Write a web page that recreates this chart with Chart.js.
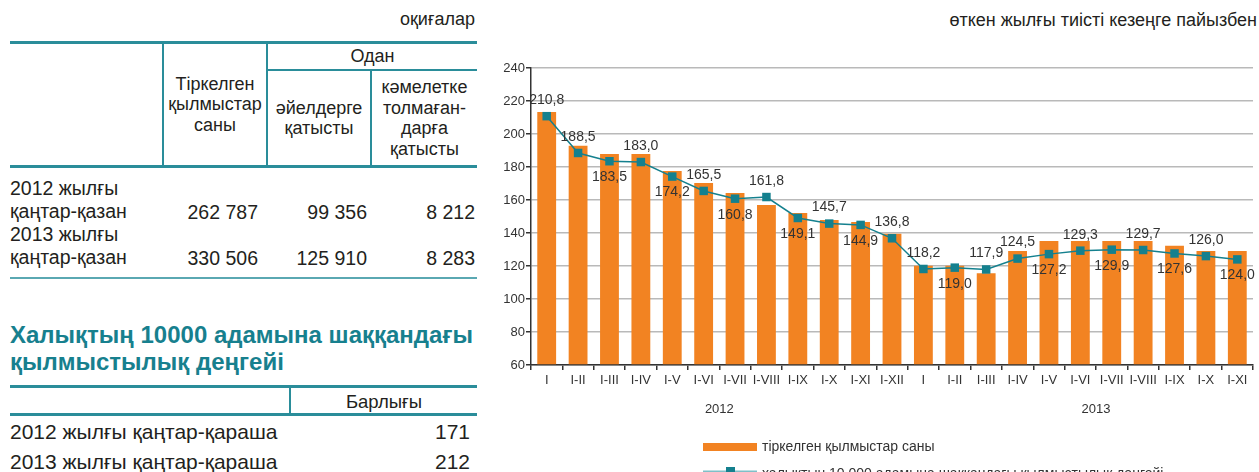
<!DOCTYPE html>
<html>
<head>
<meta charset="utf-8">
<script src="https://cdn.jsdelivr.net/npm/chart.js@4.4.1/dist/chart.umd.min.js"></script>
<style>
html, body { margin: 0; padding: 0; background: #fff; overflow: hidden; }
body { width: 1259px; height: 472px; position: relative; font-family: 'Liberation Sans', Arial, sans-serif; color: #231f20; }
.t { position: absolute; white-space: nowrap; }
.ln { position: absolute; background: #2a8d9a; }
.cell { position: absolute; display: flex; align-items: center; justify-content: center; text-align: center; font-size: 18px; line-height: 20.5px; }
#chartBox { position: absolute; left: 490px; top: 0; width: 769px; height: 500px; }
</style>
</head>
<body>

<!-- таблица 1 -->
<div class="t" style="left:0;width:475px;text-align:right;top:9px;font-size:18px;line-height:20px;">оқиғалар</div>
<div class="ln" style="left:10px;top:41px;width:467px;height:3px;"></div>
<div class="ln" style="left:162px;top:43px;width:2px;height:124px;"></div>
<div class="ln" style="left:266px;top:43px;width:2px;height:124px;"></div>
<div class="ln" style="left:266px;top:69px;width:211px;height:2px;"></div>
<div class="ln" style="left:370px;top:70px;width:2px;height:97px;"></div>
<div class="ln" style="left:10px;top:165px;width:467px;height:3px;"></div>
<div class="cell" style="left:164px;top:44px;width:102px;height:121px;">Тіркелген<br>қылмыстар<br>саны</div>
<div class="cell" style="left:268px;top:44px;width:209px;height:25px;">Одан</div>
<div class="cell" style="left:268px;top:71px;width:102px;height:94px;">әйелдерге<br>қатысты</div>
<div class="cell" style="left:372px;top:71px;width:105px;height:94px;">кәмелетке<br>толмаған-<br>дарға<br>қатысты</div>

<div class="t" style="left:10px;top:177px;font-size:19.5px;line-height:23px;">2012 жылғы<br>қаңтар-қазан<br>2013 жылғы<br>қаңтар-қазан</div>
<div class="t" style="left:150px;width:108px;text-align:right;top:189px;font-size:19.5px;line-height:46px;">262 787<br>330 506</div>
<div class="t" style="left:262px;width:105px;text-align:right;top:189px;font-size:19.5px;line-height:46px;">99 356<br>125 910</div>
<div class="t" style="left:372px;width:103px;text-align:right;top:189px;font-size:19.5px;line-height:46px;">8 212<br>8 283</div>
<div class="ln" style="left:10px;top:277px;width:467px;height:2px;background:#5aa8b2;"></div>

<!-- заголовок -->
<div class="t" style="left:10px;top:321px;font-size:24px;line-height:27px;font-weight:bold;color:#17808e;">Халықтың 10000 адамына шаққандағы<br>қылмыстылық деңгейі</div>

<!-- таблица 2 -->
<div class="ln" style="left:10px;top:385px;width:467px;height:3px;"></div>
<div class="ln" style="left:289px;top:387px;width:2px;height:28px;"></div>
<div class="ln" style="left:10px;top:413px;width:467px;height:3px;"></div>
<div class="t" style="left:291px;width:186px;text-align:center;top:391px;font-size:18.5px;line-height:22px;">Барлығы</div>
<div class="t" style="left:10px;top:417px;font-size:21px;line-height:30px;">2012 жылғы қаңтар-қараша<br>2013 жылғы қаңтар-қараша</div>
<div class="t" style="left:380px;width:90px;text-align:right;top:417px;font-size:21px;line-height:30px;">171<br>212</div>

<!-- график -->
<div class="t" style="left:650px;width:607px;text-align:right;top:10px;font-size:18px;line-height:20px;">өткен жылғы тиісті кезеңге пайызбен</div>
<div id="chartBox"><canvas id="crimeChart"></canvas></div>

<script>
// подписи месяцев (нарастающим итогом), 2012 + 2013
const monthLabels = ['I', 'I-II', 'I-III', 'I-IV', 'I-V', 'I-VI', 'I-VII', 'I-VIII', 'I-IX', 'I-X', 'I-XI', 'I-XII',
                     'I', 'I-II', 'I-III', 'I-IV', 'I-V', 'I-VI', 'I-VII', 'I-VIII', 'I-IX', 'I-X', 'I-XI'];
// тіркелген қылмыстар саны (столбцы)
const registeredCrimes = [213.3, 192.9, 187.9, 187.9, 177.6, 170.3, 164.2, 157.0, 152.1, 147.9, 146.7, 139.5,
                          120.2, 120.2, 115.6, 129.1, 135.2, 135.2, 135.2, 135.2, 132.3, 129.1, 129.1];
// қылмыстылық деңгейі (линия, по подписям)
const crimeRate = [210.8, 188.5, 183.5, 183.0, 174.2, 165.5, 160.8, 161.8, 149.1, 145.7, 144.9, 136.8,
                   118.2, 119.0, 117.9, 124.5, 127.2, 129.3, 129.9, 129.7, 127.6, 126.0, 124.0];
// где стоит подпись точки: сверху или снизу
const labelSide = ['up', 'up', 'down', 'up', 'down', 'up', 'down', 'up', 'down', 'up', 'down', 'up',
                   'up', 'down', 'up', 'up', 'down', 'up', 'down', 'up', 'down', 'up', 'down'];
const years = ['2012', '2013'];
const yearFirstIndex = [0, 12];
const legendNames = ['тіркелген қылмыстар саны', 'халықтың 10 000 адамына шаққандағы қылмыстылық деңгейі'];

const ORANGE = '#f28322';
const TEAL = '#14808e';
const TEXT = '#333333';

const fmt = v => v.toFixed(1).replace('.', ',');

// подписи значений, годы и легенда
const extrasPlugin = {
    id: 'extras',
    afterDatasetsDraw(chart) {
        const ctx = chart.ctx;
        const meta = chart.getDatasetMeta(0);
        ctx.save();
        ctx.font = '14px "Liberation Sans", Arial, sans-serif';
        ctx.fillStyle = TEXT;
        ctx.textAlign = 'center';
        ctx.textBaseline = 'middle';
        meta.data.forEach((pt, i) => {
            const dy = labelSide[i] === 'up' ? -16 : 16;
            ctx.fillText(fmt(crimeRate[i]), pt.x, pt.y + dy);
        });
        ctx.restore();
    },
    afterDraw(chart) {
        const ctx = chart.ctx;
        const xs = chart.scales.x;
        const area = chart.chartArea;
        ctx.save();
        ctx.fillStyle = TEXT;
        ctx.textBaseline = 'middle';
        ctx.textAlign = 'center';
        ctx.font = '13px "Liberation Sans", Arial, sans-serif';
        years.forEach((y, i) => {
            const a = xs.getPixelForValue(yearFirstIndex[i]);
            const b = xs.getPixelForValue(yearFirstIndex[i] + 11);
            ctx.fillText(y, (a + b) / 2, area.bottom + 44);
        });

        // легенда
        const lx = area.left + 172;
        ctx.textAlign = 'left';
        ctx.font = '14px "Liberation Sans", Arial, sans-serif';
        ctx.fillStyle = ORANGE;
        ctx.fillRect(lx, 443, 54, 8);
        ctx.fillStyle = TEXT;
        ctx.fillText(legendNames[0], lx + 59, 447);

        ctx.strokeStyle = '#7fc0c8';
        ctx.lineWidth = 3;
        ctx.beginPath();
        ctx.moveTo(lx, 472);
        ctx.lineTo(lx + 54, 472);
        ctx.stroke();
        ctx.fillStyle = TEAL;
        ctx.fillRect(lx + 23, 467, 9, 9);
        ctx.fillStyle = TEXT;
        ctx.fillText(legendNames[1], lx + 59, 474);
        ctx.restore();
    }
};

const ctx = document.getElementById('crimeChart').getContext('2d');
const crimeChart = new Chart(ctx, {
    data: {
        labels: monthLabels,
        datasets: [
            {
                type: 'line',
                label: legendNames[1],
                data: crimeRate,
                borderColor: TEAL,
                borderWidth: 1.5,
                pointStyle: 'rect',
                pointRadius: 6,
                pointBackgroundColor: TEAL,
                pointBorderColor: TEAL,
                pointBorderWidth: 0,
                tension: 0,
                order: 0
            },
            {
                type: 'bar',
                label: legendNames[0],
                data: registeredCrimes,
                backgroundColor: ORANGE,
                base: 60,
                categoryPercentage: 1,
                barPercentage: 0.6,
                order: 1
            }
        ]
    },
    options: {
        responsive: true,
        maintainAspectRatio: false,
        animation: false,
        layout: { padding: { top: 68, right: 1, bottom: 105, left: 0 } },
        plugins: {
            legend: { display: false },
            tooltip: { enabled: false }
        },
        scales: {
            x: {
                offset: true,
                grid: { display: true, drawOnChartArea: false, offset: true, tickLength: 5, tickColor: '#333', lineWidth: 1.5 },
                border: { color: '#333', width: 1.5 },
                ticks: {
                    color: TEXT,
                    font: { size: 13, family: '"Liberation Sans", Arial, sans-serif' },
                    autoSkip: false,
                    maxRotation: 0,
                    padding: 3
                },
                afterFit: s => { s.height = 30; }
            },
            y: {
                min: 60,
                max: 240,
                ticks: {
                    stepSize: 20,
                    color: TEXT,
                    font: { size: 13, family: '"Liberation Sans", Arial, sans-serif' },
                    padding: 1
                },
                grid: { color: '#b9b9b9', lineWidth: 1.5, tickLength: 5, tickColor: '#333' },
                border: { color: '#333', width: 1.5 },
                afterFit: s => { s.width = 41; }
            }
        }
    },
    plugins: [extrasPlugin]
});
</script>
</body>
</html>
